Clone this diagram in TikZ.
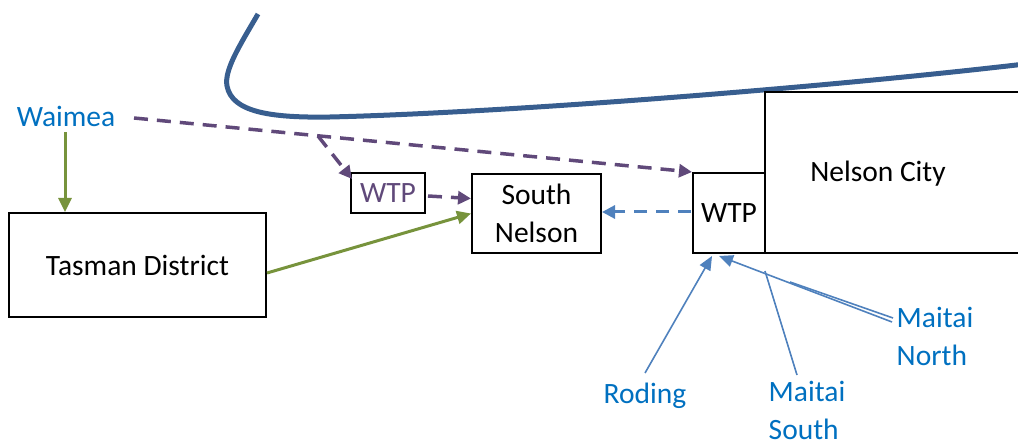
\documentclass[tikz,border=0pt]{standalone}
\usepackage{fontspec}
\setmainfont{Carlito}
\usetikzlibrary{arrows.meta,calc}
\definecolor{txtblue}{RGB}{0,112,192}
\definecolor{purp}{RGB}{96,73,122}
\definecolor{grn}{RGB}{119,147,60}
\definecolor{lblue}{RGB}{79,129,189}
\definecolor{river}{RGB}{56,94,143}
\tikzset{
  box/.style={draw=black,line width=2pt,inner sep=0pt,align=center,font=\fontsize{29.5}{38}\selectfont},
  lbl/.style={text=txtblue,inner sep=0pt,align=left,font=\fontsize{29.5}{38}\selectfont},
  pdash/.style={draw=purp,line width=3.5pt,dash pattern=on 14pt off 9pt,-{Triangle[length=13pt,width=13pt]}},
  garrow/.style={draw=grn,line width=3pt,-{Triangle[length=14pt,width=13pt]}},
  bdash/.style={draw=lblue,line width=3pt,dash pattern=on 13pt off 9pt,-{Triangle[length=13pt,width=13pt]}},
  bline/.style={draw=lblue,line width=1.6pt},
  barrow/.style={bline,-{Triangle[length=14pt,width=12pt]}}
}
\begin{document}
\begin{tikzpicture}[x=1pt,y=-1pt]
\useasboundingbox (0,0) rectangle (1018,446);
% river
\draw[river,line width=5pt] (258,14) .. controls (240,45) and (224,70) .. (227,86)
  .. controls (232,112) and (270,118) .. (330,117)
  .. controls (500,113) and (820,88) .. (1025,64);
% boxes
\node[box,minimum width=257pt,minimum height=104pt] (tasman) at (137.5,265) {Tasman District};
\node[box,minimum width=129pt,minimum height=79pt] (sn) at (536.5,213.5) {South\\Nelson};
\node[box,minimum width=74pt,minimum height=40pt,text=purp] (wtpa) at (388,193) {WTP};
\node[box,minimum width=260pt,minimum height=161pt] (nc) at (895,172.5) {};
\node[inner sep=0pt,font=\fontsize{29.5}{38}\selectfont] (nclbl) at (878,174) {Nelson City};
\node[box,minimum width=72pt,minimum height=80pt] (wtpb) at (729,213) {WTP};
% labels
\node[lbl] (waimea) at (66,116) {Waimea};
\node[lbl] (roding) at (645,396) {Roding};
\node[lbl] (msouth) at (807,410) {Maitai\\South};
\node[lbl] (mnorth) at (935,336) {Maitai\\North};
% coordinates
\coordinate (wstart) at (134,118);
\coordinate (branch) at (318,136);
\coordinate (wtpain) at (352,179);
\coordinate (rstart) at (645,373);
\coordinate (nstart) at (892,322);
\coordinate (nstart2) at (893,318);
\coordinate (nmid) at (790,282);
\coordinate (sstart) at (797,375);
\coordinate (send) at (765,271);
% connectors
\draw[garrow] (waimea.south -| 65,0) ++(0,6) -- (tasman.north -| 65,0);
\draw[garrow] ($(tasman.east)+(0,8)$) -- (sn.west);
\draw[pdash] (wstart) -- (wtpb.north west);
\draw[pdash] (branch) -- (wtpain);
\draw[pdash] ($(wtpa.east)+(2,3)$) -- ($(sn.west)+(0,-15)$);
\draw[bdash] ($(wtpb.west)+(-1,-1)$) -- ($(sn.east)+(0,-1.5)$);
\draw[barrow] (rstart) -- ($(wtpb.south west)+(20,2)$);
\draw[barrow] (nstart) -- ($(wtpb.south west)+(27,2)$);
\draw[bline] (nstart2) -- (nmid);
\draw[bline] (sstart) -- (send);
\end{tikzpicture}
\end{document}
